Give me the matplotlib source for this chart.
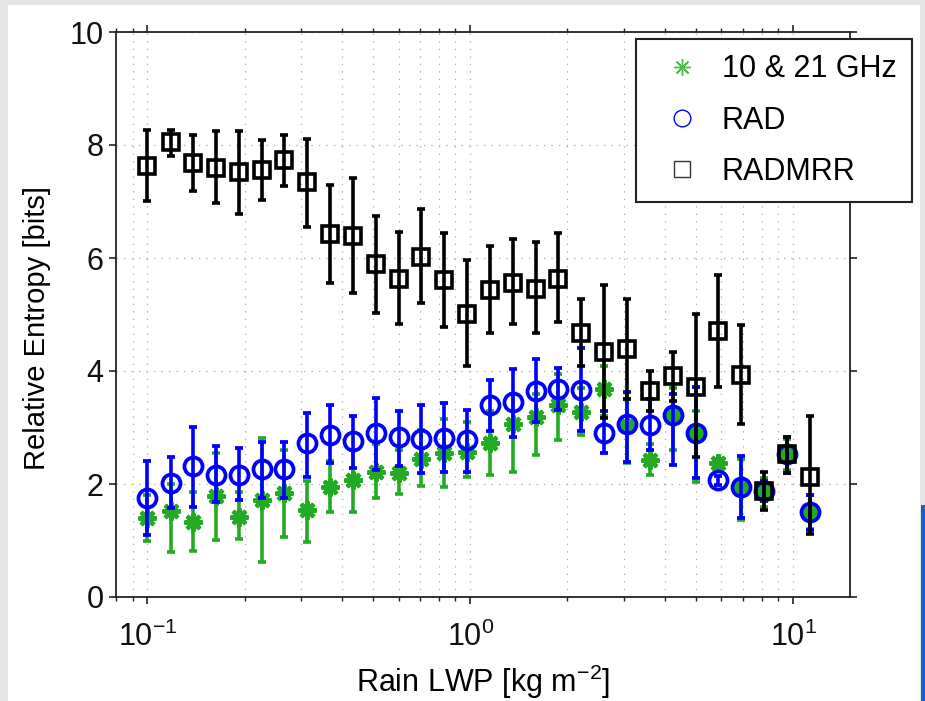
import matplotlib
matplotlib.use('Agg')
import matplotlib.pyplot as plt
from matplotlib.lines import Line2D
from matplotlib.patches import Rectangle
from matplotlib import ticker
import numpy as np

plt.rcParams['font.family'] = ['Liberation Sans', 'DejaVu Sans']
plt.rcParams['mathtext.fontset'] = 'custom'
plt.rcParams['mathtext.rm'] = 'Liberation Sans'
plt.rcParams['mathtext.it'] = 'Liberation Sans:italic'

# rain LWP bins [kg m-2]
lwp = [0.100, 0.118, 0.139, 0.163, 0.192, 0.226, 0.266, 0.313, 0.368, 0.433,
       0.510, 0.600, 0.706, 0.831, 0.978, 1.151, 1.355, 1.594, 1.876, 2.208,
       2.599, 3.059, 3.600, 4.237, 4.987, 5.870, 6.908, 8.131, 9.570, 11.26]

# 10 & 21 GHz
ghz = [1.40, 1.53, 1.33, 1.78, 1.42, 1.72, 1.84, 1.54, 1.95, 2.07,
       2.21, 2.19, 2.44, 2.55, 2.57, 2.72, 3.07, 3.19, 3.40, 3.28,
       3.69, 3.05, 2.42, 3.22, 2.90, 2.37, 1.95, 1.88, 2.53, 1.50]
ghz_hi = [1.80, 2.00, 1.85, 2.55, 1.85, 2.81, 2.60, 2.05, 2.40, 2.60,
          2.70, 2.60, 2.95, 3.15, 3.10, 3.30, 3.60, 3.60, 3.95, 3.70,
          4.08, 3.50, 2.70, 3.70, 3.30, 2.45, 2.45, 2.10, 2.80, 1.80]
ghz_lo = [0.99, 0.79, 0.82, 1.01, 1.02, 0.62, 1.07, 0.98, 1.51, 1.51,
          1.75, 1.82, 1.97, 1.95, 2.12, 2.16, 2.22, 2.51, 2.78, 2.87,
          3.20, 2.37, 2.16, 2.60, 2.04, 2.30, 1.36, 1.60, 2.25, 1.20]

# RAD
rad = [1.75, 2.01, 2.32, 2.16, 2.16, 2.26, 2.26, 2.72, 2.87, 2.76,
       2.91, 2.84, 2.79, 2.81, 2.78, 3.40, 3.45, 3.65, 3.69, 3.66,
       2.91, 3.06, 3.04, 3.22, 2.90, 2.07, 1.95, 1.88, 2.53, 1.51]
rad_hi = [2.41, 2.47, 3.01, 2.67, 2.63, 2.75, 2.75, 3.25, 3.40, 3.20,
          3.52, 3.30, 3.40, 3.43, 3.31, 3.84, 4.03, 4.22, 4.06, 4.40,
          3.30, 3.63, 3.50, 3.60, 3.72, 2.15, 2.50, 2.05, 2.83, 1.81]
rad_lo = [1.10, 1.57, 1.60, 1.69, 1.72, 1.75, 1.75, 2.13, 2.37, 2.28,
          2.25, 2.31, 2.20, 2.22, 2.22, 2.93, 2.84, 3.10, 3.31, 2.93,
          2.54, 2.39, 2.60, 2.34, 2.10, 1.99, 1.39, 1.70, 2.19, 1.19]

# RADMRR
mrr = [7.63, 8.06, 7.69, 7.60, 7.52, 7.56, 7.73, 7.34, 6.43, 6.39,
       5.89, 5.63, 6.02, 5.61, 5.01, 5.44, 5.56, 5.46, 5.63, 4.68,
       4.34, 4.39, 3.65, 3.91, 3.72, 4.71, 3.93, 1.88, 2.53, 2.13]
mrr_hi = [8.27, 8.27, 8.18, 8.24, 8.25, 8.08, 8.18, 8.11, 7.29, 7.41,
          6.74, 6.46, 6.86, 6.45, 5.96, 6.22, 6.33, 6.29, 6.44, 5.27,
          5.52, 5.27, 4.00, 4.33, 5.01, 5.70, 4.81, 2.21, 2.83, 3.20]
mrr_lo = [7.01, 7.80, 7.19, 6.97, 6.77, 7.03, 7.28, 6.54, 5.56, 5.38,
          5.02, 4.83, 5.20, 4.78, 4.08, 4.67, 4.84, 4.68, 4.86, 4.09,
          3.16, 3.50, 3.30, 3.47, 2.48, 3.71, 3.07, 1.54, 2.19, 1.12]

GREEN = '#22ab22'
BLUE = '#0000ff'


def yerr(val, lo, hi):
    val = np.array(val)
    return [val - np.array(lo), np.array(hi) - val]


W, H = 925, 701
fig = plt.figure(figsize=(W / 100, H / 100), dpi=100)
fig.patch.set_facecolor('#e6e6e6')
fig.patches.append(Rectangle((8 / W, 0), 912 / W, 696 / H, transform=fig.transFigure,
                             facecolor='white', edgecolor='none', zorder=-10))
fig.patches.append(Rectangle((921 / W, 0), 4 / W, 196 / H, transform=fig.transFigure,
                             facecolor='#1565c8', edgecolor='none', zorder=-10))

ax = fig.add_axes([116 / W, 104 / H, 734 / W, 565 / H])
ax.set_xscale('log')

ax.errorbar(lwp, ghz, yerr=yerr(ghz, ghz_lo, ghz_hi), fmt='none', ecolor=GREEN,
            elinewidth=2.6, capsize=3, capthick=2.6, zorder=3)
ax.plot(lwp, ghz, linestyle='none', marker=(8, 2, 0), markersize=13,
        markeredgewidth=3.0, color=GREEN, zorder=3)
ax.errorbar(lwp, rad, yerr=yerr(rad, rad_lo, rad_hi), fmt='o', color=BLUE,
            mfc='none', mec=BLUE, markersize=13, markeredgewidth=2.7,
            elinewidth=2.6, capsize=3, capthick=2.6, zorder=4)
ax.errorbar(lwp, mrr, yerr=yerr(mrr, mrr_lo, mrr_hi), fmt='s', color='black',
            mfc='none', mec='black', markersize=12, markeredgewidth=2.6,
            elinewidth=2.6, capsize=3, capthick=2.6, zorder=5)

ax.set_xlim(0.08, 15)
ax.set_ylim(0, 10)
ax.set_yticks([0, 2, 4, 6, 8, 10])
ax.xaxis.set_minor_locator(ticker.LogLocator(base=10, subs=np.arange(2, 10)))
ax.xaxis.set_minor_formatter(ticker.NullFormatter())

ax.grid(True, which='major', color='#aaaaaa', linestyle=(0, (1, 5)), linewidth=0.9)
ax.grid(True, which='minor', axis='x', color='#aaaaaa', linestyle=(0, (1, 5)), linewidth=0.9)
ax.set_axisbelow(True)

for s in ax.spines.values():
    s.set_linewidth(1.3)
    s.set_color('#222222')
ax.tick_params(which='both', direction='out', top=True, right=True,
               labelsize=22, colors='#222222', labelcolor='#111111')
ax.tick_params(which='major', length=5, width=1.2, pad=4)
ax.tick_params(which='minor', length=3, width=1.0)
ax.tick_params(axis='x', which='major', pad=13)

ax.set_xlabel('Rain LWP [kg m$^{-2}$]', fontsize=22, labelpad=7)
ax.set_ylabel('Relative Entropy [bits]', fontsize=21)
ax.yaxis.set_label_coords(-0.088, 0.476)

handles = [
    Line2D([], [], linestyle='none', marker=(8, 2, 0), color=GREEN,
           markersize=12, markeredgewidth=1.0, alpha=0.8),
    Line2D([], [], linestyle='none', marker='o', mfc='none', mec=BLUE,
           markersize=12, markeredgewidth=1.0),
    Line2D([], [], linestyle='none', marker='s', mfc='none', mec='#333333',
           markersize=11, markeredgewidth=1.0),
]
leg = ax.legend(handles, ['10 & 21 GHz', 'RAD', 'RADMRR'], loc='upper right',
                bbox_to_anchor=(912 / W, 1 - 39 / H), bbox_transform=fig.transFigure,
                fontsize=22, frameon=True, fancybox=False, framealpha=1,
                edgecolor='#222222', borderaxespad=0, borderpad=0.5,
                handlelength=2.0, handletextpad=0.3, labelspacing=0.7)
leg.get_frame().set_linewidth(1.5)
leg.set_zorder(10)

fig.savefig('out.png', dpi=100, facecolor=fig.get_facecolor())
